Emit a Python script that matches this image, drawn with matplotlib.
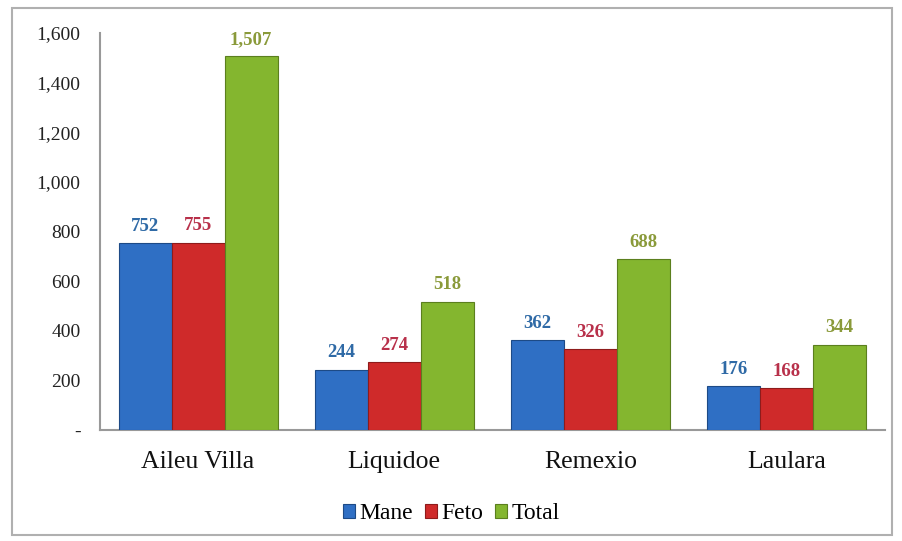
import matplotlib
matplotlib.use("Agg")
import matplotlib.pyplot as plt
import numpy as np
from matplotlib.patches import Rectangle

categories = ["Aileu Villa", "Liquidoe", "Remexio", "Laulara"]
mane = [752, 244, 362, 176]
feto = [755, 274, 326, 168]
total = [1507, 518, 688, 344]
series_names = ["Mane", "Feto", "Total"]
yticks = [0, 200, 400, 600, 800, 1000, 1200, 1400, 1600]
ytick_labels = ["-", "200", "400", "600", "800", "1,000", "1,200", "1,400", "1,600"]

bar_colors = ["#2f6fc4", "#cf2a2a", "#84b62f"]
edge_colors = ["#1d4a86", "#8e1b1b", "#5b7f1e"]
label_colors = ["#2f6aa6", "#b8304a", "#8a9a3a"]

plt.rcParams['font.family'] = ['Liberation Serif', 'DejaVu Serif']

fig = plt.figure(figsize=(9.03, 5.41), dpi=100)
ax = fig.add_axes([0.1107, 0.205, 0.869, 0.734])

x = np.arange(len(categories))
w = 0.27
for i, (vals, name) in enumerate(zip([mane, feto, total], series_names)):
    pos = x + (i - 1) * w
    ax.bar(pos, vals, width=w, color=bar_colors[i], edgecolor=edge_colors[i],
           linewidth=0.8, label=name, zorder=3)
    for p, v in zip(pos, vals):
        ax.annotate(f"{v:,}", (p, v), xytext=(0, 6), textcoords="offset points",
                    ha="center", va="bottom", fontsize=13.5, fontweight="bold",
                    color=label_colors[i])

ax.set_xlim(-0.5, 3.5)
ax.set_ylim(0, 1600)
ax.set_yticks(yticks)
ax.set_yticklabels(ytick_labels, fontsize=14, color="#222222")
ax.set_xticks(x)
ax.set_xticklabels(categories, fontsize=18.5, color="#111111")
ax.tick_params(axis="x", length=0, pad=15)
ax.tick_params(axis="y", length=0, pad=14)
for s in ["top", "right"]:
    ax.spines[s].set_visible(False)
ax.spines["left"].set_color("#999999")
ax.spines["bottom"].set_color("#999999")
ax.spines["left"].set_linewidth(1.5)
ax.spines["bottom"].set_linewidth(1.5)

fig.legend(loc="center", bbox_to_anchor=(0.5, 0.05), ncol=3, frameon=False,
           fontsize=17, handlelength=0.5, handleheight=0.5, handletextpad=0.2,
           columnspacing=0.5)

fig.patches.append(Rectangle((12 / 903, 6 / 541), 880 / 903, 527 / 541,
                             transform=fig.transFigure, fill=False,
                             edgecolor="#b0b0b0", linewidth=1.5))

fig.savefig("out.png", dpi=100)
